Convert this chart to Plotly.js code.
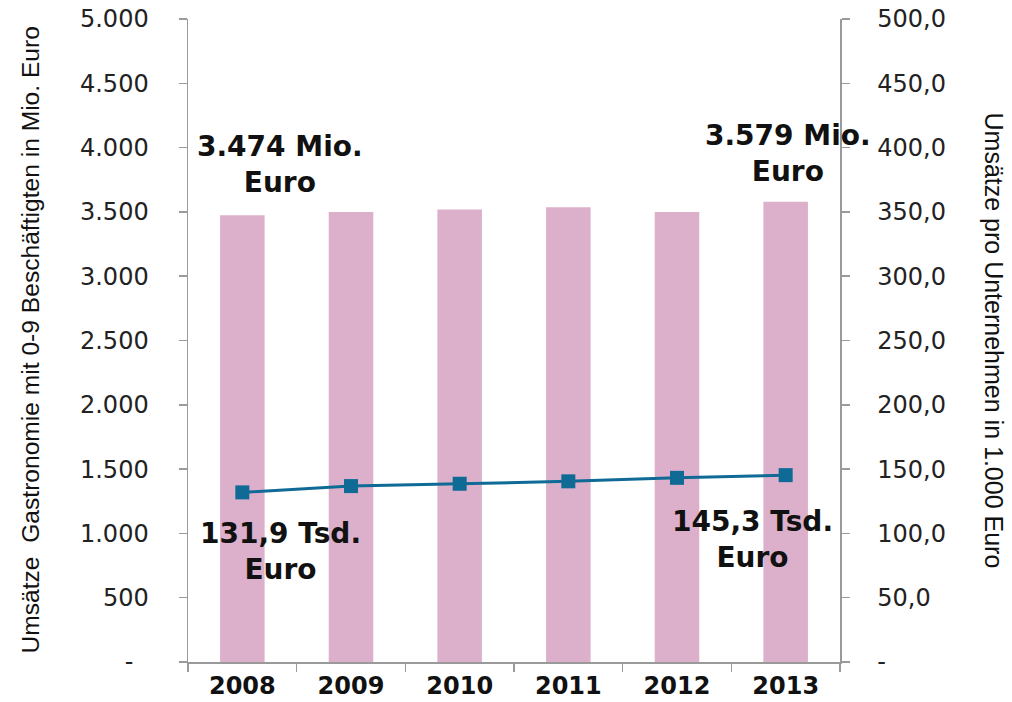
<!DOCTYPE html>
<html>
<head>
<meta charset="utf-8">
<script src="https://cdn.plot.ly/plotly-3.0.1.min.js"></script>
<style>html,body{margin:0;padding:0;background:#fff;}#chart{width:1012px;height:702px;}</style>
</head>
<body>
<div id="chart"></div>
<script>
const years = ["2008", "2009", "2010", "2011", "2012", "2013"];
const salesMio = [3474, 3500, 3518, 3536, 3500, 3579];
const perCompanyTsd = [131.9, 136.8, 138.6, 140.5, 143.2, 145.3];
const leftTickVals = [0, 500, 1000, 1500, 2000, 2500, 3000, 3500, 4000, 4500, 5000];
const leftTickText = ["-\u00a0\u00a0", "500", "1.000", "1.500", "2.000", "2.500", "3.000", "3.500", "4.000", "4.500", "5.000"];
const rightTickVals = [0, 50, 100, 150, 200, 250, 300, 350, 400, 450, 500];
const rightTickText = ["-", "50,0", "100,0", "150,0", "200,0", "250,0", "300,0", "350,0", "400,0", "450,0", "500,0"];
const barLabels = ["3.474 Mio.<br>Euro", "3.579 Mio.<br>Euro"];
const lineLabels = ["131,9 Tsd.<br>Euro", "145,3 Tsd.<br>Euro"];
const leftTitle = "Umsätze  Gastronomie mit 0-9 Beschäftigten in Mio. Euro";
const rightTitle = "Umsätze pro Unternehmen in 1.000 Euro";

const axisColor = "#9a9a9a";
const tickFont = {family: "DejaVu Sans, Liberation Sans, Arial, sans-serif", size: 24, color: "#222"};
const titleFontL = {family: "Liberation Sans, Arial, sans-serif", size: 24.6, color: "#111"};
const titleFontR = {family: "Liberation Sans, Arial, sans-serif", size: 25, color: "#111"};
const annFont = {family: "DejaVu Sans, Liberation Sans, Arial, sans-serif", size: 28, color: "#111", weight: "bold"};
const lineColor = "#0f6b96";

const traces = [
  {
    type: "bar", x: years, y: salesMio, yaxis: "y",
    marker: {color: "#dcb0cb"}, hoverinfo: "skip"
  },
  {
    type: "scatter", mode: "lines+markers", x: years, y: perCompanyTsd, yaxis: "y2",
    line: {color: lineColor, width: 3},
    marker: {symbol: "square", size: 14, color: lineColor}
  }
];

const last = years.length - 1;
const layout = {
  width: 1012, height: 702,
  margin: {l: 188, r: 172, t: 19, b: 40},
  paper_bgcolor: "#fff", plot_bgcolor: "#fff",
  showlegend: false,
  bargap: 0.59,
  xaxis: {
    type: "category", range: [-0.5, last + 0.5], autorange: false,
    showgrid: false, zeroline: false,
    showline: true, linecolor: axisColor, linewidth: 1.5,
    ticks: "outside", tickson: "boundaries", ticklen: 8, tickcolor: axisColor, tickwidth: 1.5,
    tickfont: {family: "DejaVu Sans, Liberation Sans, Arial, sans-serif", size: 24, color: "#111", weight: "bold"},
    ticklabelstandoff: 2, tickangle: 0
  },
  yaxis: {
    range: [0, 5000], autorange: false, tickvals: leftTickVals, ticktext: leftTickText,
    showgrid: false, zeroline: false, showline: true, linecolor: axisColor, linewidth: 1.5,
    ticks: "outside", ticklen: 8, tickcolor: axisColor, tickwidth: 1.5,
    tickfont: tickFont, ticklabelstandoff: 25
  },
  yaxis2: {
    range: [0, 500], autorange: false, tickvals: rightTickVals, ticktext: rightTickText,
    overlaying: "y", side: "right",
    showgrid: false, zeroline: false, showline: true, linecolor: axisColor, linewidth: 1.5,
    ticks: "outside", ticklen: 8, tickcolor: axisColor, tickwidth: 1.5,
    tickfont: tickFont, ticklabelstandoff: 23
  },
  annotations: [
    {x: 0, y: salesMio[0], xref: "x", yref: "y", text: barLabels[0], showarrow: false,
     yanchor: "bottom", yshift: 14, xshift: 38, font: annFont},
    {x: last, y: salesMio[last], xref: "x", yref: "y", text: barLabels[1], showarrow: false,
     yanchor: "bottom", yshift: 12, xshift: 2, font: annFont},
    {x: 0, y: perCompanyTsd[0], xref: "x", yref: "y2", text: lineLabels[0], showarrow: false,
     yanchor: "top", yshift: -23, xshift: 38, font: annFont},
    {x: last, y: perCompanyTsd[last], xref: "x", yref: "y2", text: lineLabels[1], showarrow: false,
     yanchor: "top", yshift: -28, xshift: -33, font: annFont},
    {x: 0, xref: "paper", xanchor: "center", xshift: -158, y: 0.5, yref: "paper", yanchor: "middle", text: leftTitle,
     textangle: -90, showarrow: false, font: titleFontL},
    {x: 1, xref: "paper", xanchor: "center", xshift: 154, y: 0.5, yref: "paper", yanchor: "middle", text: rightTitle,
     textangle: 90, showarrow: false, font: titleFontR}
  ]
};

Plotly.newPlot("chart", traces, layout, {displayModeBar: false, staticPlot: true});
</script>
</body>
</html>
